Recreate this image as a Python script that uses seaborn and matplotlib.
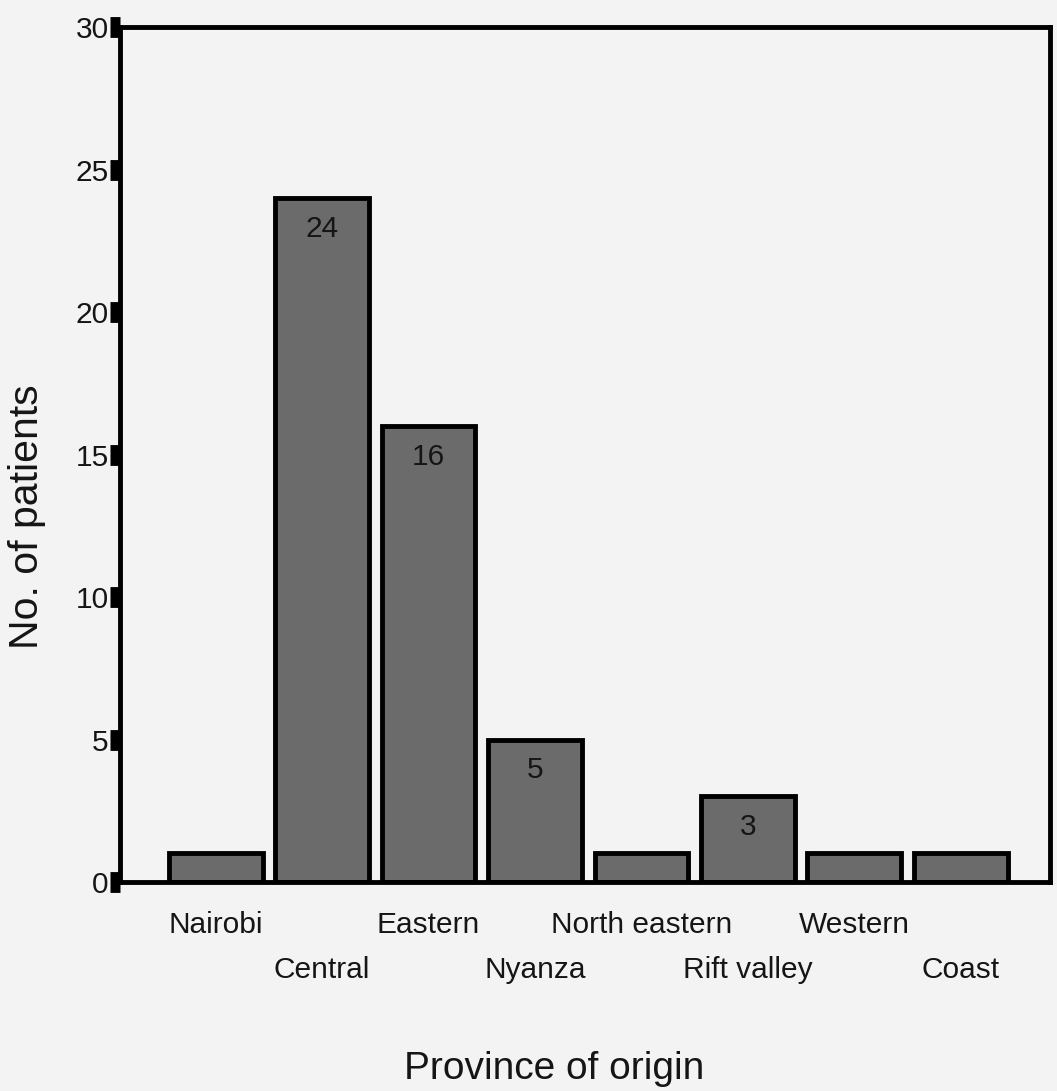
import matplotlib
matplotlib.use("Agg")
import matplotlib.pyplot as plt
import seaborn as sns
import pandas as pd

provinces = ["Nairobi", "Central", "Eastern", "Nyanza", "North eastern",
             "Rift valley", "Western", "Coast"]
patients = [1, 24, 16, 5, 1, 3, 1, 1]
bar_labels = ["", "24", "16", "5", "", "3", "", ""]
y_ticks = [0, 5, 10, 15, 20, 25, 30]

sns.set_theme(style="white")
plt.rcParams["font.family"] = ["Liberation Sans", "DejaVu Sans"]

bg = "#f3f3f3"
txt = "#151515"
fig = plt.figure(figsize=(10.57, 10.91), dpi=100, facecolor=bg)
ax = fig.add_axes([0.1135, 0.1916, 0.88, 0.7834])
ax.set_facecolor(bg)

df = pd.DataFrame({"Province": provinces, "Patients": patients})
sns.barplot(data=df, x="Province", y="Patients", color="#6b6b6b",
            saturation=1, width=0.88, edgecolor="black", linewidth=3.5, ax=ax)

ax.bar_label(ax.containers[0], labels=bar_labels, label_type="edge",
             padding=-32, fontsize=21.5, color=txt)

ax.set_ylim(0, 30)
ax.set_xlim(-0.9, 7.84)
ax.set_yticks(y_ticks)
ax.set_yticklabels([str(t) for t in y_ticks], fontsize=21.5, color=txt)
ax.tick_params(axis="y", left=True, direction="out", length=7, width=15,
               color="black", pad=1)
ax.tick_params(axis="x", bottom=False, length=0, labelsize=21.5, labelcolor=txt)

for i, tick in enumerate(ax.xaxis.get_major_ticks()):
    tick.set_pad(53 if i % 2 == 1 else 21)

for s in ax.spines.values():
    s.set_visible(True)
    s.set_color("black")
    s.set_linewidth(3.5)

ax.set_xlabel("Province of origin", fontsize=28, color=txt)
ax.xaxis.set_label_coords(0.467, -0.198)
ax.set_ylabel("No. of patients", fontsize=29.5, color=txt)
ax.yaxis.set_label_coords(-0.079, 0.427)

fig.savefig("out.png", dpi=100, facecolor=bg)
